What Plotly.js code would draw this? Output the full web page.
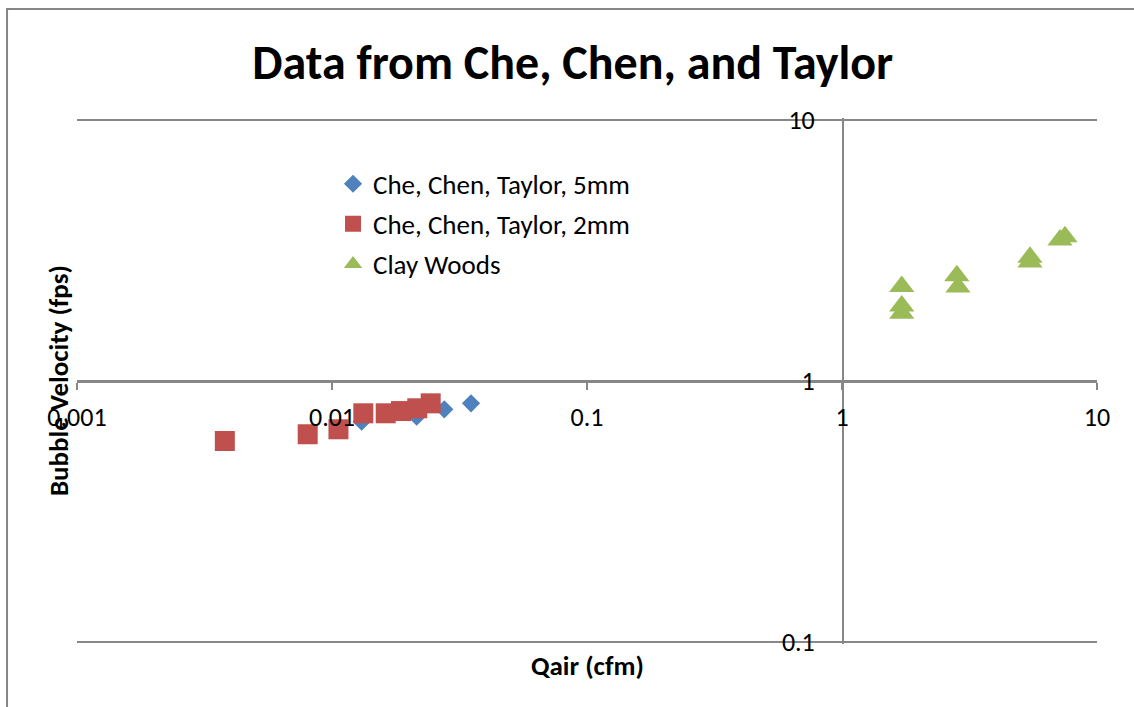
<!DOCTYPE html>
<html>
<head>
<meta charset="utf-8">
<script src="https://cdn.plot.ly/plotly-3.0.1.min.js"></script>
<style>
  html, body { margin: 0; padding: 0; background: #ffffff; }
  #chart { width: 1134px; height: 707px; }
</style>
</head>
<body>
<div id="chart"></div>
<script>
// Bubble velocity vs. air flow rate
const series5mmName = 'Che, Chen, Taylor, 5mm';
const series5mmQair = [0.01307, 0.02148, 0.02757, 0.03509];
const series5mmVel  = [0.698, 0.730, 0.779, 0.821];

const series2mmName = 'Che, Chen, Taylor, 2mm';
const series2mmQair = [0.0038, 0.00803, 0.0106, 0.01327, 0.01624, 0.01865, 0.0216, 0.02438];
const series2mmVel  = [0.589, 0.625, 0.653, 0.752, 0.752, 0.767, 0.786, 0.821];

const clayName = 'Clay Woods';
const clayQair = [1.715, 1.715, 1.715, 2.82, 2.85, 5.46, 5.46, 7.16, 7.49];
const clayVel  = [2.30, 1.94, 1.82, 2.53, 2.29, 2.98, 2.86, 3.47, 3.57];

const xTickVals = [0.001, 0.01, 0.1, 1, 10];
const xTickText = ['0.001', '0.01', '0.1', '1', '10'];
const yTickVals = [0.1, 1, 10];
const yTickText = ['0.1', '1', '10'];

const chartTitle = 'Data from Che, Chen, and Taylor';
const xTitle = 'Qair (cfm)';
const yTitle = 'Bubble Velocity (fps)';

const FONT = 'Carlito, Lato, sans-serif';
const AXIS_GREY = '#878787';

const traces = [
  {
    x: series5mmQair, y: series5mmVel, name: series5mmName,
    type: 'scatter', mode: 'markers', legendgroup: 'a',
    marker: { symbol: 'diamond', size: 14, color: '#4F81BD' }
  },
  {
    x: series2mmQair, y: series2mmVel, name: series2mmName,
    type: 'scatter', mode: 'markers', legendgroup: 'b',
    marker: { symbol: 'square', size: 20, color: '#C0504D' }
  },
  {
    x: clayQair, y: clayVel, name: clayName,
    type: 'scatter', mode: 'markers', legendgroup: 'c',
    marker: { symbol: 'triangle-up', size: 22, color: '#9BBB59' }
  }
];

const layout = {
  width: 1134, height: 707,
  margin: { l: 77, r: 37, t: 118, b: 63 },
  paper_bgcolor: '#ffffff', plot_bgcolor: 'rgba(0,0,0,0)',
  font: { family: FONT, color: '#000000', size: 26 },
  title: {
    text: '<b>' + chartTitle + '</b>',
    font: { family: FONT, size: 48, color: '#000000' },
    x: 0.505, xref: 'container', xanchor: 'center',
    y: 0.912, yref: 'container', yanchor: 'middle'
  },
  xaxis: {
    type: 'log', range: [-3, 1],
    anchor: 'free', position: 0.5,
    showgrid: false, zeroline: false,
    showline: true, linecolor: AXIS_GREY, linewidth: 1.5,
    ticks: 'outside', ticklen: 7, tickwidth: 1.5, tickcolor: AXIS_GREY,
    tickmode: 'array', tickvals: xTickVals, ticktext: xTickText,
    ticklabelstandoff: 5,
    tickfont: { family: FONT, size: 26, color: '#000000' }
  },
  yaxis: {
    // slightly wider than two decades so the 0.1 and 10 gridlines stay inside
    type: 'log', range: [-1.008, 1.008],
    anchor: 'free', position: 0.75,
    showgrid: true, gridcolor: AXIS_GREY, gridwidth: 1.5,
    zeroline: false,
    showline: true, linecolor: AXIS_GREY, linewidth: 1.5,
    ticks: 'outside', ticklen: 8, tickwidth: 1.5, tickcolor: AXIS_GREY,
    tickmode: 'array', tickvals: yTickVals, ticktext: yTickText,
    ticklabelstandoff: 14,
    tickfont: { family: FONT, size: 26, color: '#000000' }
  },
  showlegend: true,
  legend: {
    x: 0.251, y: 0.9207, xanchor: 'left', yanchor: 'top',
    bgcolor: 'rgba(0,0,0,0)', borderwidth: 0,
    traceorder: 'grouped', tracegroupgap: 2,
    font: { family: FONT, size: 27, color: '#000000' }
  },
  annotations: [
    {
      text: '<b>' + xTitle + '</b>', showarrow: false,
      xref: 'paper', yref: 'paper', x: 0.5, y: -0.040,
      xanchor: 'center', yanchor: 'middle',
      font: { family: FONT, size: 27, color: '#000000' }
    },
    {
      text: '<b>' + yTitle + '</b>', showarrow: false, textangle: -90,
      xref: 'paper', yref: 'paper', x: -0.0186, y: 0.5,
      xanchor: 'center', yanchor: 'middle',
      font: { family: FONT, size: 27, color: '#000000' }
    }
  ],
  shapes: [
    {
      // chart frame
      type: 'rect', xref: 'paper', yref: 'paper', layer: 'below',
      x0: -0.0686, x1: 1.3, y0: -0.3, y1: 1.207,
      line: { color: '#868686', width: 2 }, fillcolor: 'rgba(0,0,0,0)'
    }
  ]
};

Plotly.newPlot('chart', traces, layout, { displayModeBar: false, staticPlot: true });
</script>
</body>
</html>
